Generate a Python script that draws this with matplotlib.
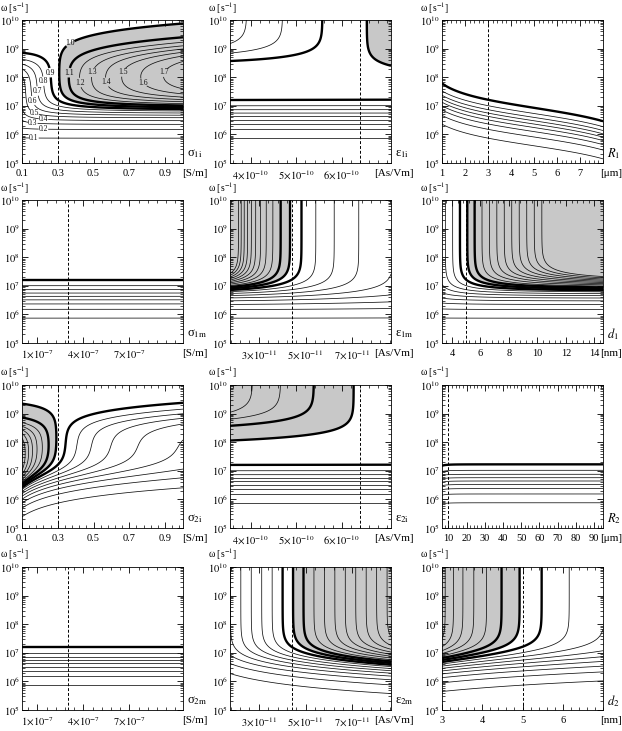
import numpy as np
import matplotlib
matplotlib.use("Agg")
import matplotlib.pyplot as plt
from matplotlib.ticker import FixedLocator, FixedFormatter, AutoMinorLocator, LogLocator, NullFormatter

plt.rcParams['font.family'] = ['Liberation Serif', 'DejaVu Serif']
plt.rcParams['mathtext.fontset'] = 'stix'

# ---------------- model parameters (SI units) ----------------
default_params = {
    's1i': 0.3, 'e1i': 6.4e-10, 'R1': 3e-6, 's1m': 3e-7, 'e1m': 4.4e-11, 'd1': 5e-9,
    's2i': 0.3, 'e2i': 6.4e-10, 'R2': 10e-6, 's2m': 3e-7, 'e2m': 4.4e-11, 'd2': 5e-9,
    'se': 0.1, 'ee': 7.1e-10,
}

# panel order (row-major), displayed ranges, unit scale
panel_params = ['s1i', 'e1i', 'R1', 's1m', 'e1m', 'd1', 's2i', 'e2i', 'R2', 's2m', 'e2m', 'd2']
panel_xmin = [0.1, 3.54e-10, 1.0, 0.0, 1.77e-11, 3.3, 0.1, 3.54e-10, 6.5, 0.0, 1.77e-11, 3.0]
panel_xmax = [1.0, 7.08e-10, 8.0, 1.05e-6, 8.65e-11, 14.6, 1.0, 7.08e-10, 95.0, 1.05e-6, 8.65e-11, 7.0]
panel_scale = [1, 1, 1e-6, 1, 1, 1e-9, 1, 1, 1e-6, 1, 1, 1e-9]
panel_symbol = ['σ$_{1\\mathrm{i}}$', 'ε$_{1\\mathrm{i}}$', '$R_1$',
                'σ$_{1\\mathrm{m}}$', 'ε$_{1\\mathrm{m}}$', '$d_1$',
                'σ$_{2\\mathrm{i}}$', 'ε$_{2\\mathrm{i}}$', '$R_2$',
                'σ$_{2\\mathrm{m}}$', 'ε$_{2\\mathrm{m}}$', '$d_2$']
panel_unit = ['[S/m]', '[As/Vm]', '[μm]', '[S/m]', '[As/Vm]', '[nm]',
              '[S/m]', '[As/Vm]', '[μm]', '[S/m]', '[As/Vm]', '[nm]']
panel_ticks = [
    [0.1, 0.3, 0.5, 0.7, 0.9],
    [4e-10, 5e-10, 6e-10],
    [1, 2, 3, 4, 5, 6, 7],
    [1e-7, 4e-7, 7e-7],
    [3e-11, 5e-11, 7e-11],
    [4, 6, 8, 10, 12, 14],
    [0.1, 0.3, 0.5, 0.7, 0.9],
    [4e-10, 5e-10, 6e-10],
    [10, 20, 30, 40, 50, 60, 70, 80, 90],
    [1e-7, 4e-7, 7e-7],
    [3e-11, 5e-11, 7e-11],
    [3, 4, 5, 6],
]
panel_ticklabels = [
    ['0.1', '0.3', '0.5', '0.7', '0.9'],
    [r'$4\!\times\!10^{-10}$', r'$5\!\times\!10^{-10}$', r'$6\!\times\!10^{-10}$'],
    ['1', '2', '3', '4', '5', '6', '7'],
    [r'$1\!\times\!10^{-7}$', r'$4\!\times\!10^{-7}$', r'$7\!\times\!10^{-7}$'],
    [r'$3\!\times\!10^{-11}$', r'$5\!\times\!10^{-11}$', r'$7\!\times\!10^{-11}$'],
    ['4', '6', '8', '10', '12', '14'],
    ['0.1', '0.3', '0.5', '0.7', '0.9'],
    [r'$4\!\times\!10^{-10}$', r'$5\!\times\!10^{-10}$', r'$6\!\times\!10^{-10}$'],
    ['10', '20', '30', '40', '50', '60', '70', '80', '90'],
    [r'$1\!\times\!10^{-7}$', r'$4\!\times\!10^{-7}$', r'$7\!\times\!10^{-7}$'],
    [r'$3\!\times\!10^{-11}$', r'$5\!\times\!10^{-11}$', r'$7\!\times\!10^{-11}$'],
    ['3', '4', '5', '6'],
]
# horizontal offset (pixels from the right axis end) of the unit label centre
unit_offset_px = [12, 3, 8, 12, 3, 8, 12, 3, 8, 12, 3, 8]

thin_levels = [0.1, 0.2, 0.3, 0.4, 0.5, 0.6, 0.7, 0.8, 1.2, 1.3, 1.4, 1.5, 1.6, 1.7, 1.8, 1.9, 2.0]
thick_levels = [0.9, 1.0, 1.1]
shade_level = 1.0
omega_min_exp, omega_max_exp = 5, 10

# contour label positions for the first panel (x, log10 omega)
label_levels = [0.1, 0.2, 0.3, 0.4, 0.5, 0.6, 0.7, 0.8, 0.9, 1.0, 1.1, 1.2, 1.3, 1.4, 1.5, 1.6, 1.7]
label_x = [0.167, 0.22, 0.16, 0.22, 0.17, 0.16, 0.19, 0.22, 0.26, 0.37, 0.36, 0.43, 0.50, 0.57, 0.67, 0.78, 0.90]
label_logw = [5.88, 6.19, 6.36, 6.53, 6.77, 7.18, 7.52, 7.86, 8.16, 9.18, 8.16, 7.82, 8.16, 7.82, 8.16, 7.82, 8.16]


def itv_ratio(p, w):
    s = 1j * w
    l1i = p['s1i'] + s * p['e1i']
    l1m = p['s1m'] + s * p['e1m']
    l2i = p['s2i'] + s * p['e2i']
    l2m = p['s2m'] + s * p['e2m']
    le = p['se'] + s * p['ee']
    r_a = p['R1'] - p['d1']
    r_b = p['R1']
    r_c = p['R2'] - p['d2']
    r_d = p['R2']
    A = np.ones_like(l1i)
    B = np.zeros_like(l1i)
    coeffs = [(A, B)]
    for a, lin, lout in [(r_a, l1i, l1m), (r_b, l1m, l2i), (r_c, l2i, l2m), (r_d, l2m, le)]:
        P = A * a + B / a**2
        Q = lin / lout * (A - 2 * B / a**3)
        A = (Q + 2 * P / a) / 3.0
        B = a**2 * P - A * a**3
        coeffs.append((A, B))

    def phi(c, r):
        return c[0] * r + c[1] / r**2
    d_org = phi(coeffs[0], r_a) - phi(coeffs[2], r_b)
    d_cell = phi(coeffs[2], r_c) - phi(coeffs[4], r_d)
    return np.abs(d_org) / np.abs(d_cell)


fig = plt.figure(figsize=(6.22, 7.31), dpi=100)
W, H = 622.0, 731.0
col_left = [22, 230, 442]
col_width = 161
row_top = [20, 200, 385, 567]
row_height = 143

omega = np.logspace(omega_min_exp, omega_max_exp, 500)

for k, name in enumerate(panel_params):
    r, c = divmod(k, 3)
    ax = fig.add_axes([col_left[c] / W, 1 - (row_top[r] + row_height) / H, col_width / W, row_height / H])
    x = np.linspace(panel_xmin[k], panel_xmax[k], 400)
    X, OM = np.meshgrid(x, omega)
    p = {}
    for kk, v in default_params.items():
        p[kk] = X * panel_scale[k] if kk == name else np.full_like(X, v)
    Z = itv_ratio(p, OM)
    ax.contourf(X, OM, Z, levels=[shade_level, 1e3], colors=['#c8c8c8'])
    cs_thin = ax.contour(X, OM, Z, levels=thin_levels, colors='#111111', linewidths=0.55)
    cs_thick = ax.contour(X, OM, Z, levels=thick_levels, colors='k', linewidths=1.7)
    ax.axvline(default_params[name] / panel_scale[k], color='k', lw=0.7, ls=(0, (3, 2)))
    ax.set_yscale('log')
    ax.set_xlim(panel_xmin[k], panel_xmax[k])
    ax.set_ylim(10**omega_min_exp, 10**omega_max_exp)
    ax.yaxis.set_major_locator(FixedLocator([10.0**e for e in range(omega_min_exp, omega_max_exp + 1)]))
    ax.yaxis.set_major_formatter(FixedFormatter([r'$10^{%d}$' % e for e in range(omega_min_exp, omega_max_exp + 1)]))
    ax.yaxis.set_minor_locator(LogLocator(base=10, subs=np.arange(2, 10), numticks=20))
    ax.yaxis.set_minor_formatter(NullFormatter())
    ax.xaxis.set_major_locator(FixedLocator(panel_ticks[k]))
    ax.xaxis.set_major_formatter(FixedFormatter(panel_ticklabels[k]))
    ax.xaxis.set_minor_locator(AutoMinorLocator(5))
    ax.tick_params(which='both', direction='in', top=True, right=True, labelsize=7.5)
    ax.tick_params(axis='x', pad=4)
    ax.tick_params(axis='y', pad=1.5)
    ax.tick_params(which='major', length=4, width=0.6)
    ax.tick_params(which='minor', length=2, width=0.5)
    for sp in ax.spines.values():
        sp.set_linewidth(0.6)
    ax.text(-0.135, 1.0 + 8.5 / row_height, 'ω [s$^{-1}$]', transform=ax.transAxes, fontsize=7,
            ha='left', va='baseline')
    ax.text(1.025, 0.065, panel_symbol[k], transform=ax.transAxes, fontsize=9, ha='left', va='center')
    ax.text(1.0 + unit_offset_px[k] / col_width, -0.045, panel_unit[k], transform=ax.transAxes,
            fontsize=8, ha='center', va='top')
    if k == 0:
        for cs in (cs_thin, cs_thick):
            sel = [i for i, lev in enumerate(label_levels) if lev in list(cs.levels)]
            texts = cs.clabel(levels=[label_levels[i] for i in sel], fmt='%.1f', fontsize=5.5,
                              inline=True, inline_spacing=0,
                              manual=[(label_x[i], 10**label_logw[i]) for i in sel])
            for t in texts:
                t.set_rotation(0)

fig.savefig('out.png', dpi=100)
